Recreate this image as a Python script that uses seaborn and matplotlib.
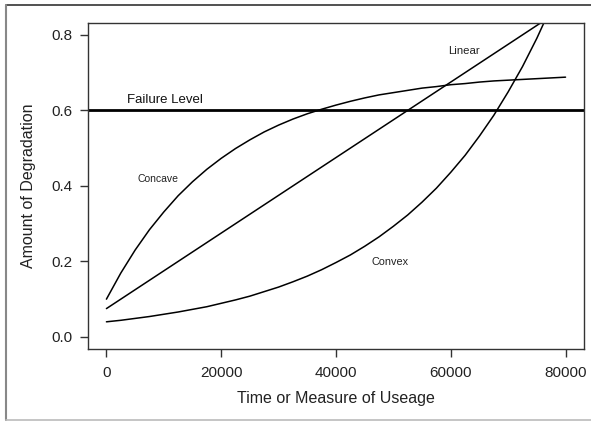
import matplotlib
matplotlib.use('Agg')
import matplotlib.pyplot as plt
from matplotlib.lines import Line2D
import seaborn as sns
import pandas as pd

# values (every 2500 units of usage)
usage = [0, 2500, 5000, 7500, 10000, 12500, 15000, 17500, 20000, 22500,
         25000, 27500, 30000, 32500, 35000, 37500, 40000, 42500, 45000, 47500,
         50000, 52500, 55000, 57500, 60000, 62500, 65000, 67500, 70000, 72500,
         75000, 77500, 80000]
concave = [0.100, 0.169, 0.230, 0.284, 0.331, 0.374, 0.411, 0.444, 0.473, 0.499,
           0.522, 0.543, 0.561, 0.577, 0.591, 0.603, 0.614, 0.624, 0.633, 0.641,
           0.647, 0.653, 0.659, 0.663, 0.668, 0.671, 0.675, 0.678, 0.680, 0.682,
           0.684, 0.686, 0.688]
linear = [0.075, 0.100, 0.125, 0.150, 0.175, 0.200, 0.225, 0.250, 0.275, 0.300,
          0.325, 0.350, 0.375, 0.400, 0.425, 0.450, 0.475, 0.500, 0.525, 0.550,
          0.575, 0.600, 0.625, 0.650, 0.675, 0.700, 0.725, 0.750, 0.775, 0.800,
          0.825, 0.850, 0.875]
convex = [0.040, 0.044, 0.049, 0.054, 0.060, 0.066, 0.073, 0.080, 0.089, 0.098,
          0.108, 0.120, 0.132, 0.146, 0.161, 0.178, 0.197, 0.217, 0.240, 0.265,
          0.293, 0.323, 0.357, 0.394, 0.436, 0.481, 0.532, 0.587, 0.649, 0.716,
          0.791, 0.874, 0.966]
failure_level = 0.6

curve_labels = ['Concave', 'Linear', 'Convex']
label_x = [8900, 62300, 49400]
label_y = [0.419, 0.758, 0.199]
label_size = [7.5, 8.2, 7.8]

df = pd.DataFrame({'usage': usage * 3,
                   'degradation': concave + linear + convex,
                   'shape': ['Concave'] * len(usage) + ['Linear'] * len(usage) + ['Convex'] * len(usage)})

sns.set_theme(style='ticks')
plt.rcParams['font.family'] = ['Liberation Sans', 'DejaVu Sans']

fig = plt.figure(figsize=(5.91, 4.22), dpi=100)
ax = fig.add_axes([0.149, 0.173, 0.839, 0.773])

sns.lineplot(data=df, x='usage', y='degradation', units='shape', estimator=None,
             color='black', linewidth=1.1, ax=ax, legend=False)
ax.axhline(failure_level, color='black', linewidth=2.0)

for name, lx, ly, fs in zip(curve_labels, label_x, label_y, label_size):
    ax.text(lx, ly, name, fontsize=fs, ha='center', va='center', color='#222222')
ax.text(3600, failure_level + 0.012, 'Failure Level', fontsize=9.5, ha='left',
        va='bottom', color='#111111')

ax.set_xlim(-3200, 83200)
ax.set_ylim(-0.032, 0.832)
ax.set_xticks([0, 20000, 40000, 60000, 80000])
ax.set_yticks([0.0, 0.2, 0.4, 0.6, 0.8])
ax.set_yticklabels(['0.0', '0.2', '0.4', '0.6', '0.8'])
ax.tick_params(axis='both', direction='out', length=6, width=1, color='#333333',
               labelsize=11, labelcolor='#222222')
ax.tick_params(axis='x', pad=6)
ax.tick_params(axis='y', pad=5)
for s in ax.spines.values():
    s.set_visible(True)
    s.set_color('#333333')
    s.set_linewidth(1.0)
ax.set_xlabel('Time or Measure of Useage', fontsize=11.5, color='#222222', labelpad=8)
ax.set_ylabel('Amount of Degradation', fontsize=11.5, color='#222222', labelpad=11)

# outer picture frame
fig.add_artist(Line2D([0.010, 1.0], [0.988, 0.988], transform=fig.transFigure,
                      color='#333333', linewidth=1.2))
fig.add_artist(Line2D([0.010, 0.010], [0.005, 0.988], transform=fig.transFigure,
                      color='#888888', linewidth=1.5))
fig.add_artist(Line2D([0.010, 1.0], [0.005, 0.005], transform=fig.transFigure,
                      color='#bbbbbb', linewidth=1.2))

fig.savefig('out.png', dpi=100)
plt.close(fig)
